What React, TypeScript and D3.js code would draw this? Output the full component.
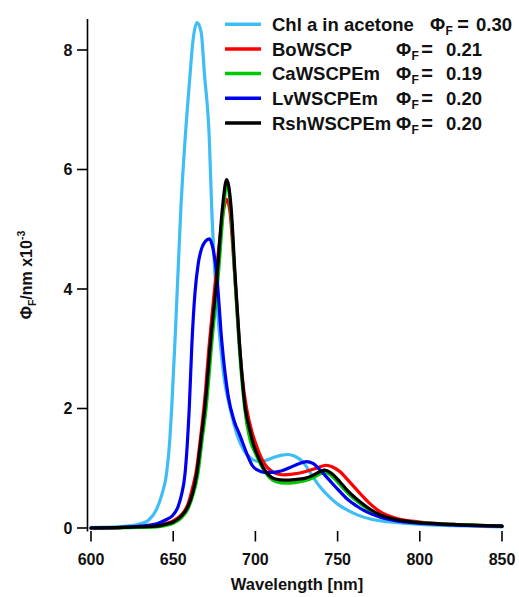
import React from "react";
import * as d3 from "d3";

type Pt = [number, number];

// Wavelength (nm), Phi_F per nm (x10^-3)
const chlA: Pt[] = [
  [600, 0.01], [615, 0.02], [625, 0.04], [630, 0.07], [635, 0.13], [640, 0.32],
  [643, 0.55], [646, 0.92], [648, 1.5], [649.1, 2.02], [651.1, 3.14], [652.9, 4.26],
  [654.7, 5.37], [657.2, 6.49], [660, 7.5], [662, 8.15], [664.5, 8.46], [667, 8.3],
  [669, 7.6], [672, 6.49], [673.4, 5.37], [675.4, 4.26], [678.5, 3.14], [681, 2.5],
  [684.5, 2.02], [689, 1.55], [693, 1.3], [697, 1.17], [701, 1.12], [706, 1.13],
  [711, 1.18], [716, 1.22], [720, 1.23], [724, 1.2], [729, 1.1], [734, 0.9],
  [739, 0.7], [745, 0.52], [750, 0.4], [756, 0.3], [762, 0.22], [770, 0.15],
  [782, 0.1], [800, 0.06], [820, 0.04], [850, 0.02],
];

const boWSCP: Pt[] = [
  [600, 0.0], [620, 0.01], [630, 0.02], [640, 0.04], [645, 0.07], [650, 0.12],
  [655, 0.22], [659, 0.4], [662, 0.7], [664, 0.95], [667, 1.6], [669, 2.1],
  [672, 3.1], [675, 3.95], [678, 4.75], [680.5, 5.3], [682.5, 5.5], [684.5, 5.3],
  [686.5, 4.6], [688.5, 3.8], [690.5, 3.0], [693, 2.3], [695, 1.95], [698, 1.6],
  [701, 1.35], [704, 1.15], [707, 1.02], [710, 0.95], [714, 0.9], [718, 0.89],
  [722, 0.9], [727, 0.92], [731, 0.95], [737, 1.0], [743, 1.05], [747, 1.02],
  [751.5, 0.94], [757, 0.78], [763.6, 0.58], [770, 0.4], [776, 0.27], [786, 0.16],
  [800, 0.1], [820, 0.06], [850, 0.03],
];

const caWSCPEm: Pt[] = [
  [600, 0.0], [630, 0.01], [640, 0.02], [645, 0.04], [650, 0.08], [655, 0.17],
  [659, 0.32], [662, 0.55], [665, 0.9], [667.5, 1.45], [670, 2.0], [673.5, 3.1],
  [677.5, 4.25], [680.5, 5.3], [682.5, 5.75], [685, 5.35], [687.5, 4.2], [690, 3.1],
  [693.5, 2.0], [697, 1.45], [700, 1.25], [703, 1.07], [706, 0.93], [709, 0.83],
  [713, 0.77], [718, 0.75], [724, 0.76], [730, 0.79], [735, 0.84], [739, 0.9],
  [742.5, 0.93], [746, 0.88], [751.5, 0.72], [757, 0.56], [763.6, 0.41], [770, 0.29],
  [776, 0.2], [786, 0.13], [800, 0.09], [820, 0.06], [850, 0.03],
];

const lvWSCPEm: Pt[] = [
  [600, 0.0], [620, 0.01], [630, 0.03], [640, 0.07], [645, 0.13], [650, 0.22],
  [653, 0.36], [655, 0.55], [657.2, 0.91], [659.8, 2.03], [661.4, 3.1], [663.3, 3.95],
  [665.2, 4.42], [667.3, 4.68], [669.6, 4.8], [672, 4.84], [674, 4.7], [676.4, 4.26],
  [679.5, 3.14], [683.5, 2.2], [687, 1.8], [690.6, 1.55], [694.7, 1.25], [698, 1.05],
  [702, 0.96], [706, 0.93], [710, 0.93], [715, 0.95], [720, 1.0], [726, 1.07],
  [731, 1.11], [735, 1.08], [740, 0.95], [745, 0.8], [750, 0.65], [756, 0.48],
  [762, 0.36], [770, 0.24], [776, 0.18], [786, 0.12], [800, 0.08], [820, 0.05],
  [850, 0.03],
];

const rshWSCPEm: Pt[] = [
  [600, 0.0], [620, 0.01], [630, 0.02], [640, 0.03], [645, 0.06], [650, 0.1],
  [655, 0.2], [659, 0.36], [662, 0.6], [664.3, 0.91], [667, 1.5], [669.3, 2.03],
  [672.8, 3.14], [676.8, 4.26], [680, 5.37], [682.5, 5.83], [685.2, 5.37], [687.6, 4.26],
  [690.2, 3.14], [693.7, 2.03], [696.5, 1.65], [699, 1.38], [702, 1.17], [705, 1.0],
  [708, 0.89], [712, 0.82], [718, 0.8], [724, 0.81], [730, 0.83], [735, 0.88],
  [739, 0.94], [742.3, 0.97], [746, 0.92], [751.5, 0.77], [757, 0.6], [763.6, 0.44],
  [770, 0.31], [776, 0.22], [786, 0.14], [800, 0.09], [820, 0.06], [850, 0.03],
];

const seriesNames = ["Chl a in acetone", "BoWSCP", "CaWSCPEm", "LvWSCPEm", "RshWSCPEm"];
const seriesData = [chlA, boWSCP, caWSCPEm, lvWSCPEm, rshWSCPEm];
const seriesColors = ["#3FBDF7", "#FF0000", "#00C800", "#0000F0", "#000000"];
const phiValues = ["0.30", "0.21", "0.19", "0.20", "0.20"];

const xTicks = [600, 650, 700, 750, 800, 850];
const yTicks = [0, 2, 4, 6, 8];

const FONT = "'Liberation Sans', Arial, Helvetica, sans-serif";

export default function App() {
  const x = d3.scaleLinear().domain([600, 850]).range([91, 502]);
  const y = d3.scaleLinear().domain([0, 8]).range([528, 50]);
  const line = d3
    .line<Pt>()
    .x((d) => x(d[0]))
    .y((d) => y(d[1]))
    .curve(d3.curveMonotoneX);

  const axisX = 87.5;
  const legendY0 = 24.2;
  const legendStep = 24.7;

  return (
    <svg
      width={519}
      height={597}
      style={{ position: "absolute", left: 0, top: 0, background: "#fff" }}
      fontFamily={FONT}
    >
      <rect x={0} y={0} width={519} height={597} fill="#fff" />
      {/* Y axis */}
      <line x1={axisX} x2={axisX} y1={19} y2={531.5} stroke="#000" strokeWidth={1.6} />
      {yTicks.map((t) => (
        <g key={"y" + t}>
          <line x1={axisX - 10.5} x2={axisX} y1={y(t)} y2={y(t)} stroke="#000" strokeWidth={1.6} />
          <text
            x={72.5}
            y={y(t) + 5.8}
            textAnchor="end"
            fontSize={16}
            fontWeight="bold"
            fill="#111"
          >
            {t}
          </text>
        </g>
      ))}
      {/* X ticks */}
      {xTicks.map((t) => (
        <g key={"x" + t}>
          <line x1={x(t)} x2={x(t)} y1={531} y2={541.5} stroke="#000" strokeWidth={1.6} />
          <text x={x(t)} y={564.5} textAnchor="middle" fontSize={16} fontWeight="bold" fill="#111">
            {t}
          </text>
        </g>
      ))}
      <text x={297} y={590} textAnchor="middle" fontSize={16.5} fontWeight="bold" fill="#111">
        Wavelength [nm]
      </text>
      {/* Y label */}
      <text
        transform="translate(32,275) rotate(-90)"
        textAnchor="middle"
        fontSize={16}
        fontWeight="bold"
        fill="#111"
      >
        Φ
        <tspan fontSize={10.5} dy={3.5}>F</tspan>
        <tspan dy={-3.5}>/nm x10</tspan>
        <tspan fontSize={10.5} dy={-7.5}>-3</tspan>
      </text>
      {/* Data */}
      {seriesData.map((d, i) => (
        <path
          key={seriesNames[i]}
          d={line(d) || ""}
          fill="none"
          stroke={seriesColors[i]}
          strokeWidth={3.2}
          strokeLinejoin="round"
          strokeLinecap="round"
        />
      ))}
      {/* Legend */}
      {seriesNames.map((name, i) => {
        const cy = legendY0 + i * legendStep;
        const base = cy + 6.7;
        const phiX = i === 0 ? 430 : 396;
        const eqX = i === 0 ? 463 : 427;
        const valX = i === 0 ? 512 : 482;
        return (
          <g key={"leg" + i} fontWeight="bold" fill="#111">
            <line x1={225} x2={261} y1={cy} y2={cy} stroke={seriesColors[i]} strokeWidth={3.5} />
            <text x={272} y={base} fontSize={18.5}>{name}</text>
            <text x={phiX} y={base} fontSize={18.5}>Φ</text>
            <text x={phiX + 15.5} y={base + 4} fontSize={12}>F</text>
            <text x={eqX} y={base} fontSize={20} textAnchor="middle">=</text>
            <text x={valX} y={base} fontSize={18.5} textAnchor="end">{phiValues[i]}</text>
          </g>
        );
      })}
    </svg>
  );
}
